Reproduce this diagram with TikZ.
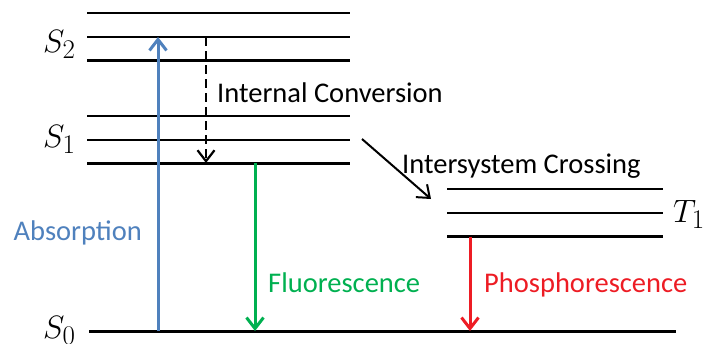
\documentclass[tikz,border=0pt]{standalone}
\usepackage{fontspec}
\setmainfont{Carlito}
\usetikzlibrary{arrows.meta}
\definecolor{absblue}{RGB}{79,129,189}
\definecolor{flgreen}{RGB}{0,176,80}
\definecolor{phred}{RGB}{237,28,36}
\newcommand{\statetext}[1]{\scalebox{1.3}{$#1$}}
\begin{document}
\begin{tikzpicture}[x=1pt,y=-1pt,
  thinlevel/.style={line width=2pt},
  thicklevel/.style={line width=3pt},
  lbl/.style={font=\fontsize{28.5}{34}\selectfont, inner sep=0pt, anchor=base west},
  statelbl/.style={font=\fontsize{24.88}{30}\selectfont, inner sep=0pt, anchor=base west},
  tip/.style={-{Straight Barb[length=11pt,width=17pt]}}
]
\useasboundingbox (0,0) rectangle (707,343);
% S2 levels
\draw[thinlevel] (87,12.5) -- (350,12.5);
\draw[thinlevel] (87,36.5) -- (350,36.5);
\draw[thicklevel] (87,60.5) -- (350,60.5);
% S1 levels
\draw[thinlevel] (87,116) -- (350,116);
\draw[thinlevel] (87,140) -- (350,140);
\draw[thicklevel] (87,163.5) -- (350,163.5);
% T1 levels
\draw[thinlevel] (447,189) -- (663,189);
\draw[thinlevel] (447,212.7) -- (663,212.7);
\draw[thicklevel] (447,236.7) -- (663,236.7);
% S0
\draw[thicklevel] (89,331.5) -- (676,331.5);

% state labels
\node[statelbl] (s2) at (43,52) {\statetext{S_2}};
\node[statelbl] (s1) at (43,147) {\statetext{S_1}};
\node[statelbl] (s0) at (43,338) {\statetext{S_0}};
\node[statelbl] (t1) at (673,222) {\statetext{T_1}};

% arrow end points
\coordinate (absA) at (158,331);
\coordinate (absB) at (158,37);
\coordinate (icA) at (206,37);
\coordinate (icB) at (206,163);
\coordinate (flA) at (255,163);
\coordinate (flB) at (255,331);
\coordinate (phA) at (470,236.7);
\coordinate (phB) at (470,331);
\coordinate (iscA) at (362,139);
\coordinate (iscB) at (431,199);

\draw[tip, line width=3pt, color=absblue] (absA) -- (absB);
\draw[tip, line width=2.2pt, dash pattern=on 9pt off 5pt] (icA) -- (icB);
\draw[tip, line width=3pt, color=flgreen] (flA) -- (flB);
\draw[tip, line width=3pt, color=phred] (phA) -- (phB);
\draw[tip, line width=2pt] (iscA) -- (iscB);

% process labels
\node[lbl] (ic) at (217,102) {Internal Conversion};
\node[lbl] (isc) at (402,173) {Intersystem Crossing};
\node[lbl, text=absblue] (abs) at (13.5,240) {Absorption};
\node[lbl, text=flgreen] (fl) at (268,292.5) {Fluorescence};
\node[lbl, text=phred] (ph) at (484,292.5) {Phosphorescence};
\end{tikzpicture}
\end{document}
